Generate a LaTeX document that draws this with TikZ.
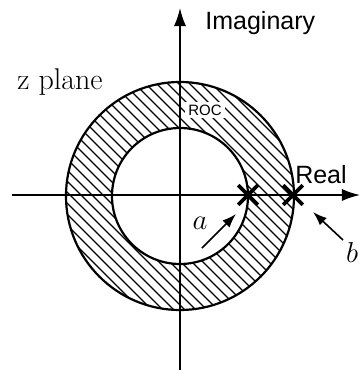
\documentclass[tikz,border=0pt]{standalone}
\usepackage{fontspec}
\newfontfamily\labelfont{Liberation Sans}
\usetikzlibrary{arrows.meta,shapes.misc}

\begin{document}
\begin{tikzpicture}[x=0.5pt,y=0.5pt,
  axis/.style={line width=0.8pt,-{Latex[length=9pt,width=6pt]}},
  ring/.style={line width=1.1pt},
  hatch/.style={line width=0.6pt},
  pole/.style={cross out,draw,line width=1.8pt,minimum size=8pt,inner sep=0pt},
  pointer/.style={line width=0.8pt,-{Latex[length=7pt,width=5pt]}},
  sans/.style={font=\labelfont\fontsize{12.5}{14}\selectfont,inner sep=0pt}]
  \useasboundingbox (-180,-181) rectangle (181,195);
  \coordinate (c) at (0,-1);
  \begin{scope}
    \clip (c) circle (57pt);
    \foreach \k in {-242,-231,...,242}
      \draw[hatch] (\k-130,130) -- (\k+130,-130);
  \end{scope}
  \fill[white] (c) circle (34pt);
  \draw[ring] (c) circle (57pt);
  \draw[ring] (c) circle (34pt);
  \coordinate (xl) at (-168,0);
  \coordinate (xr) at (180,0);
  \coordinate (yb) at (0,-175);
  \coordinate (yt) at (0,187);
  \draw[axis] (xl) -- (xr);
  \draw[axis] (yb) -- (yt);
  \foreach \p/\n in {68/a, 113/b}
    {\node[pole] (pole\n) at (\p,0) {};}
  \node[sans,anchor=west] (imag) at (25,172) {Imaginary};
  \node[sans] (real) at (141,20) {Real};
  \node[font=\fontsize{15}{18}\selectfont,inner sep=0pt] (zplane) at (-120,113) {z plane};
  \node[font=\labelfont\fontsize{7.5}{9}\selectfont,fill=white,inner sep=1.5pt] (roc) at (25,85) {ROC};
  \node[font=\fontsize{15}{18}\selectfont,inner sep=0pt] (la) at (20,-28) {$a$};
  \node[font=\fontsize{15}{18}\selectfont,inner sep=0pt] (lb) at (172,-57) {$b$};
  \coordinate (ta) at (22,-53);
  \coordinate (ha) at (56,-19);
  \coordinate (tb) at (163,-45);
  \coordinate (hb) at (133,-17);
  \draw[pointer] (ta) -- (ha);
  \draw[pointer] (tb) -- (hb);
\end{tikzpicture}
\end{document}
